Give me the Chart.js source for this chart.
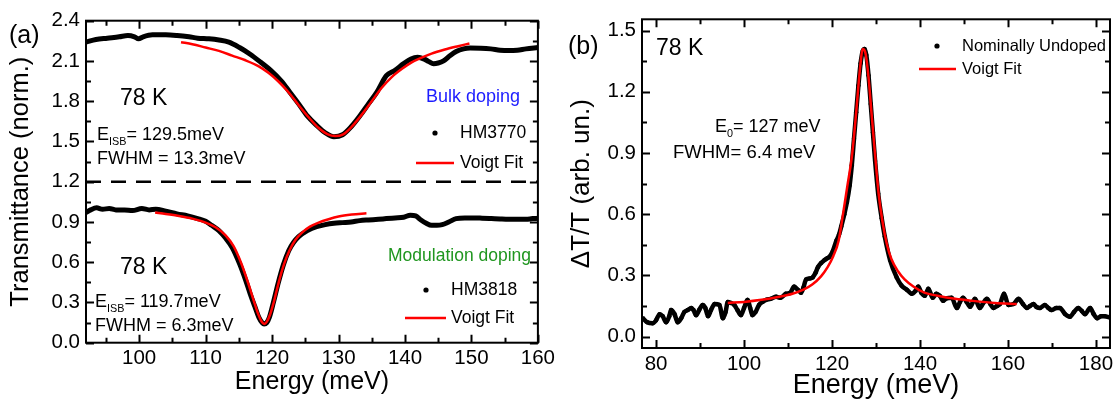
<!DOCTYPE html>
<html>
<head>
<meta charset="utf-8">
<script src="https://cdn.jsdelivr.net/npm/chart.js@4.4.0/dist/chart.umd.min.js"></script>
<style>
  body { margin: 0; background: #fff; }
  #wrap { position: relative; width: 1120px; height: 401px; }
  canvas { position: absolute; top: 0; }
</style>
</head>
<body>
<div id="wrap">
  <canvas id="panelA" width="560" height="401" style="left:0"></canvas>
  <canvas id="panelB" width="560" height="401" style="left:560px"></canvas>
</div>
<script>
// ---- panel (a): transmittance, bulk doping (HM3770)
const bulkE = [92, 93.5, 95.2, 97, 98.3, 99.3, 99.9, 100.6, 102, 104, 105.7, 107.5, 108.8, 110.5, 112, 113.5, 115.1, 116.7, 118.3, 119.8, 121.4, 122.7, 124, 125.3, 126.7, 128, 129.3, 130.6, 131.9, 133.2, 134.5, 135.8, 137.2, 138.5, 139.8, 140.9, 141.9, 142.9, 143.6, 144.3, 145, 145.8, 146.8, 147.7, 148.8, 149.8, 151.4, 152.9, 154.3, 155.6, 156.9, 158.2, 160];
const bulkT = [2.24, 2.26, 2.27, 2.28, 2.29, 2.28, 2.265, 2.28, 2.295, 2.295, 2.29, 2.28, 2.27, 2.265, 2.256, 2.24, 2.2, 2.15, 2.09, 2.03, 1.95, 1.865, 1.78, 1.69, 1.62, 1.565, 1.535, 1.55, 1.61, 1.69, 1.78, 1.87, 1.99, 2.03, 2.08, 2.115, 2.127, 2.114, 2.095, 2.08, 2.085, 2.1, 2.14, 2.17, 2.19, 2.196, 2.195, 2.19, 2.18, 2.177, 2.18, 2.19, 2.2];
const bulkFitE = [106.3, 108, 110, 112, 114, 116, 118, 119.5, 121, 122.5, 124, 125.5, 127, 128.3, 129.5, 130.7, 132, 133.5, 135, 136.5, 138, 139.5, 141, 142.5, 144, 146, 148, 149.7];
const bulkFitT = [2.24, 2.225, 2.2, 2.175, 2.14, 2.105, 2.06, 2.01, 1.945, 1.865, 1.77, 1.68, 1.6, 1.555, 1.54, 1.553, 1.61, 1.7, 1.8, 1.9, 1.98, 2.04, 2.09, 2.125, 2.155, 2.185, 2.21, 2.23];

// ---- panel (a): modulation doping (HM3818)
const modE = [92, 92.7, 93.6, 94.5, 95.5, 96.5, 97.8, 99, 100.4, 101.5, 102.5, 104, 105.7, 107.3, 108.8, 110, 110.9, 112, 113, 114, 115.1, 116, 116.7, 117.4, 118, 118.5, 118.8, 119.2, 119.6, 120.2, 120.9, 121.7, 122.5, 123.2, 124, 125.3, 126.7, 128, 129.3, 130.6, 131.9, 133.2, 134.5, 136, 137.2, 138.5, 139.8, 140.8, 141.6, 142.4, 143.2, 144, 144.8, 145.6, 146.6, 147.7, 149, 150.3, 151.6, 153, 154.3, 155.6, 156.9, 158.2, 159.2, 160];
const modT = [0.97, 0.99, 1.005, 0.995, 1.0, 0.99, 0.99, 0.985, 1.0, 0.99, 0.995, 0.98, 0.96, 0.945, 0.925, 0.905, 0.875, 0.835, 0.78, 0.71, 0.59, 0.47, 0.365, 0.27, 0.19, 0.15, 0.14, 0.15, 0.19, 0.3, 0.44, 0.58, 0.685, 0.745, 0.79, 0.835, 0.865, 0.88, 0.89, 0.895, 0.9, 0.91, 0.915, 0.92, 0.925, 0.93, 0.935, 0.95, 0.945, 0.915, 0.89, 0.875, 0.875, 0.88, 0.9, 0.925, 0.93, 0.93, 0.928, 0.925, 0.922, 0.92, 0.92, 0.92, 0.925, 0.927];
const modFitE = [102.4, 104, 106, 108, 110, 111.5, 113, 114.2, 115.3, 116.3, 117.2, 117.9, 118.4, 118.8, 119.2, 119.7, 120.3, 121, 121.8, 122.6, 123.5, 124.5, 125.7, 127, 128.5, 130, 132, 134.2];
const modFitT = [0.97, 0.96, 0.945, 0.925, 0.895, 0.86, 0.8, 0.72, 0.6, 0.46, 0.32, 0.215, 0.16, 0.14, 0.155, 0.21, 0.31, 0.45, 0.585, 0.685, 0.765, 0.82, 0.865, 0.895, 0.92, 0.94, 0.955, 0.965];

// dashed separator
const sepE = [92, 160];
const sepT = [1.2, 1.2];

// ---- panel (b): dT/T, nominally undoped
const undE = [77, 78, 79.2, 80, 80.8, 81.5, 82.3, 83, 83.4, 84.2, 84.9, 85.7, 86.4, 87.2, 88, 88.5, 89.1, 89.8, 90.6, 91.2, 91.8, 92.5, 93.3, 94.4, 95.2, 95.8, 96.3, 97, 97.8, 98.5, 99.3, 100, 100.8, 101.4, 101.9, 102.6, 103.4, 104.2, 105, 106, 107.3, 108.3, 109.5, 110.5, 111.4, 112.2, 112.95, 113.5, 114.1, 115, 115.6, 116.2, 116.8, 117.5, 118.3, 119, 119.4, 120.2, 121, 121.6, 122.1, 122.8, 123.4, 124, 124.5, 125, 125.5, 126, 126.5, 127, 127.4, 127.8, 128.3, 128.8, 129.3, 129.8, 130.5, 131.3, 132, 133.2, 134.7, 135.8, 137, 138.1, 139, 139.6, 140.3, 141.1, 141.9, 142.9, 143.7, 144.5, 145.3, 146, 147.2, 148.4, 149.1, 149.8, 150.6, 151.4, 152.5, 153.6, 154.4, 155.2, 156, 156.7, 157.5, 158.2, 159.1, 160.1, 161.3, 162.4, 163.4, 164.3, 165, 165.8, 166.5, 167.3, 168.4, 169.2, 169.9, 171, 171.8, 173, 174.1, 175, 176, 176.8, 177.5, 178.7, 179.5, 180.3, 181.2, 182, 183];
const undT = [0.09, 0.07, 0.065, 0.08, 0.11, 0.1, 0.07, 0.1, 0.13, 0.11, 0.07, 0.09, 0.12, 0.13, 0.14, 0.13, 0.105, 0.13, 0.155, 0.14, 0.1, 0.13, 0.16, 0.155, 0.09, 0.12, 0.17, 0.165, 0.155, 0.13, 0.105, 0.14, 0.18, 0.14, 0.105, 0.12, 0.155, 0.17, 0.18, 0.185, 0.195, 0.19, 0.21, 0.215, 0.245, 0.23, 0.215, 0.24, 0.28, 0.285, 0.29, 0.31, 0.34, 0.36, 0.375, 0.385, 0.39, 0.42, 0.47, 0.5, 0.54, 0.6, 0.66, 0.74, 0.84, 0.97, 1.1, 1.23, 1.34, 1.4, 1.41, 1.38, 1.28, 1.14, 1.0, 0.86, 0.7, 0.58, 0.49, 0.375, 0.29, 0.25, 0.23, 0.21, 0.225, 0.245, 0.215, 0.2, 0.235, 0.19, 0.21, 0.2, 0.175, 0.187, 0.19, 0.14, 0.17, 0.19, 0.17, 0.146, 0.185, 0.14, 0.165, 0.185, 0.16, 0.14, 0.15, 0.16, 0.21, 0.155, 0.16, 0.185, 0.16, 0.14, 0.15, 0.16, 0.145, 0.14, 0.155, 0.14, 0.13, 0.14, 0.14, 0.11, 0.097, 0.12, 0.14, 0.125, 0.11, 0.14, 0.11, 0.09, 0.1, 0.1, 0.095];
const undFitE = [96.3, 100, 104, 108, 111, 113.5, 115.5, 117.5, 119, 120.3, 121.5, 122.5, 123.5, 124.5, 125.5, 126.3, 127, 127.6, 128.3, 129, 129.8, 130.6, 131.5, 132.5, 133.5, 135, 136.5, 138.5, 141, 144, 148, 152, 157, 162];
const undFitT = [0.165, 0.17, 0.18, 0.195, 0.21, 0.23, 0.255, 0.295, 0.34, 0.395, 0.47, 0.6, 0.74, 0.88, 1.1, 1.3, 1.41, 1.39, 1.27, 1.09, 0.89, 0.7, 0.56, 0.45, 0.38, 0.32, 0.28, 0.245, 0.215, 0.2, 0.185, 0.175, 0.165, 0.16];

// ticks
const xTicksA = [100, 110, 120, 130, 140, 150, 160];
const xMinorA = [95, 105, 115, 125, 135, 145, 155];
const yTicksA = [0, 0.3, 0.6, 0.9, 1.2, 1.5, 1.8, 2.1, 2.4];
const yMinorA = [0.15, 0.45, 0.75, 1.05, 1.35, 1.65, 1.95, 2.25];
const xTicksB = [80, 100, 120, 140, 160, 180];
const xMinorB = [90, 110, 130, 150, 170];
const yTicksB = [0, 0.3, 0.6, 0.9, 1.2, 1.5];
const yMinorB = [0.15, 0.45, 0.75, 1.05, 1.35];

const FONT = '"Liberation Sans", Arial, sans-serif';
const RED = '#ff0000';
const pts = (xs, ys) => xs.map((x, i) => ({ x: x, y: ys[i] }));

// frame all round + inward ticks on the four sides
const frameTicks = {
  id: 'frameTicks',
  afterDatasetsDraw(chart, args, o) {
    const { ctx, chartArea: a, scales: { x, y } } = chart;
    ctx.save();
    ctx.strokeStyle = '#000';
    ctx.lineWidth = 2;
    ctx.beginPath();
    const xt = (v, len) => {
      const p = Math.round(x.getPixelForValue(v)) + 0.5;
      ctx.moveTo(p, a.bottom); ctx.lineTo(p, a.bottom - len);
      ctx.moveTo(p, a.top); ctx.lineTo(p, a.top + len);
    };
    const yt = (v, len) => {
      const p = Math.round(y.getPixelForValue(v)) + 0.5;
      ctx.moveTo(a.left, p); ctx.lineTo(a.left + len, p);
      ctx.moveTo(a.right, p); ctx.lineTo(a.right - len, p);
    };
    o.xMajor.forEach(v => xt(v, 8));
    o.xMinor.forEach(v => xt(v, 5));
    o.yMajor.forEach(v => yt(v, 8));
    o.yMinor.forEach(v => yt(v, 5));
    ctx.stroke();
    ctx.strokeRect(a.left, a.top, a.right - a.left, a.bottom - a.top);
    ctx.restore();
  }
};

// free text, legend samples
const notes = {
  id: 'notes',
  afterDraw(chart, args, o) {
    const ctx = chart.ctx;
    ctx.save();
    ctx.textBaseline = 'middle';
    ctx.textAlign = 'left';
    o.items.forEach(n => {
      if (n.dot) {
        ctx.fillStyle = '#000';
        ctx.beginPath(); ctx.arc(n.dot[0], n.dot[1], 2.6, 0, Math.PI * 2); ctx.fill();
        return;
      }
      if (n.line) {
        ctx.strokeStyle = RED; ctx.lineWidth = 2.5;
        ctx.beginPath(); ctx.moveTo(n.line[0], n.line[2]); ctx.lineTo(n.line[1], n.line[2]); ctx.stroke();
        return;
      }
      ctx.fillStyle = n.color || '#000';
      ctx.font = n.size + 'px ' + FONT;
      let x = n.x;
      ctx.fillText(n.text, x, n.y);
      if (n.sub) {
        x += ctx.measureText(n.text).width;
        ctx.font = (n.size * 0.6) + 'px ' + FONT;
        ctx.fillText(n.sub, x, n.y + n.size * 0.38);
        x += ctx.measureText(n.sub).width;
        ctx.font = n.size + 'px ' + FONT;
        ctx.fillText(n.rest, x, n.y);
      }
    });
    ctx.restore();
  }
};

function lineSet(xs, ys, color, width, order) {
  return { data: pts(xs, ys), showLine: true, borderColor: color, borderWidth: width, pointRadius: 0, cubicInterpolationMode: 'monotone', order: order };
}

function axes(cfg) {
  return {
    x: {
      type: 'linear', min: cfg.xMin, max: cfg.xMax,
      afterFit: s => { s.height = cfg.xH; },
      afterBuildTicks: s => { s.ticks = cfg.xTicks.map(v => ({ value: v })); },
      grid: { display: false, drawTicks: false, tickLength: 0 }, border: { display: false },
      ticks: { color: '#000', padding: cfg.xPad, font: { family: FONT, size: cfg.tick, lineHeight: 1 }, callback: v => String(v) },
      title: { display: true, text: 'Energy (meV)', color: '#000', font: { family: FONT, size: cfg.xTitle, lineHeight: 1 }, padding: { top: 0, bottom: cfg.xTitlePad } }
    },
    y: {
      type: 'linear', min: cfg.yMin, max: cfg.yMax,
      afterFit: s => { s.width = cfg.yW; },
      afterBuildTicks: s => { s.ticks = cfg.yTicks.map(v => ({ value: v })); },
      grid: { display: false, drawTicks: false, tickLength: 0 }, border: { display: false },
      ticks: { color: '#000', padding: cfg.yPad, font: { family: FONT, size: cfg.tick, lineHeight: 1 }, callback: v => v.toFixed(1) },
      title: { display: true, text: cfg.yText, color: '#000', font: { family: FONT, size: cfg.yTitle, lineHeight: 1 }, padding: { top: cfg.yTitlePad, bottom: 0 } }
    }
  };
}

new Chart('panelA', {
  type: 'scatter',
  data: {
    datasets: [
      lineSet(bulkFitE, bulkFitT, RED, 2.5, 0),
      lineSet(modFitE, modFitT, RED, 2.5, 0),
      lineSet(bulkE, bulkT, '#000', 5, 1),
      lineSet(modE, modT, '#000', 5, 1),
      Object.assign(lineSet(sepE, sepT, '#000', 2.5, 2), { borderDash: [15, 10] })
    ]
  },
  options: {
    responsive: false, animation: false, devicePixelRatio: 1,
    layout: { padding: { left: 0, right: 12, top: 20.7, bottom: 0 } },
    plugins: {
      legend: { display: false }, tooltip: { enabled: false },
      frameTicks: { xMajor: xTicksA, xMinor: xMinorA, yMajor: yTicksA, yMinor: yMinorA },
      notes: { items: [
        { text: '(a)', x: 9, y: 36, size: 25 },
        { text: '78 K', x: 120, y: 99, size: 23 },
        { text: 'E', sub: 'ISB', rest: '= 129.5meV', x: 97, y: 135, size: 18 },
        { text: 'FWHM = 13.3meV', x: 97, y: 159, size: 18 },
        { text: 'Bulk doping', x: 426, y: 97, size: 18, color: '#1c1cff' },
        { dot: [435, 133] }, { text: 'HM3770', x: 460, y: 133, size: 17.5 },
        { line: [416, 454, 163] }, { text: 'Voigt Fit', x: 460, y: 163, size: 17.5 },
        { text: '78 K', x: 120, y: 268, size: 23 },
        { text: 'E', sub: 'ISB', rest: '= 119.7meV', x: 95, y: 302, size: 18 },
        { text: 'FWHM = 6.3meV', x: 95, y: 326, size: 18 },
        { text: 'Modulation doping', x: 388, y: 256, size: 17.5, color: '#1f961f' },
        { dot: [426, 290] }, { text: 'HM3818', x: 451, y: 290, size: 17.5 },
        { line: [405, 446, 318] }, { text: 'Voigt Fit', x: 451, y: 318, size: 17.5 }
      ] }
    },
    scales: axes({
      xMin: 92, xMax: 160, xH: 58.3, xTicks: xTicksA, xPad: 5, tick: 20.5, xTitle: 25, xTitlePad: 6,
      yMin: 0, yMax: 2.4, yW: 86, yTicks: yTicksA, yPad: 6, yTitle: 25.5, yTitlePad: 8, yText: 'Transmittance (norm.)'
    })
  },
  plugins: [frameTicks, notes]
});

new Chart('panelB', {
  type: 'scatter',
  data: {
    datasets: [
      lineSet(undFitE, undFitT, RED, 2.5, 0),
      Object.assign(lineSet(undE, undT, '#000', 4.5, 1), { pointRadius: 2.2, pointBackgroundColor: '#000', pointBorderWidth: 0 })
    ]
  },
  options: {
    responsive: false, animation: false, devicePixelRatio: 1,
    layout: { padding: { left: 0, right: 10, top: 19.3, bottom: 0 } },
    plugins: {
      legend: { display: false }, tooltip: { enabled: false },
      frameTicks: { xMajor: xTicksB, xMinor: xMinorB, yMajor: yTicksB, yMinor: yMinorB },
      notes: { items: [
        { text: '(b)', x: 8, y: 47, size: 25 },
        { text: '78 K', x: 96, y: 49, size: 23 },
        { text: 'E', sub: '0', rest: '= 127 meV', x: 155, y: 127, size: 18 },
        { text: 'FWHM= 6.4 meV', x: 113, y: 153, size: 18.5 },
        { dot: [377, 46] }, { text: 'Nominally Undoped', x: 402, y: 46, size: 16.5 },
        { line: [359, 396, 69] }, { text: 'Voigt Fit', x: 402, y: 69, size: 16.5 }
      ] }
    },
    scales: axes({
      xMin: 76.8, xMax: 183.2, xH: 53, xTicks: xTicksB, xPad: 6, tick: 20.5, xTitle: 27, xTitlePad: 2,
      yMin: -0.056, yMax: 1.555, yW: 82, yTicks: yTicksB, yPad: 6, yTitle: 26, yTitlePad: 9, yText: 'ΔT/T (arb. un.)'
    })
  },
  plugins: [frameTicks, notes]
});
</script>
</body>
</html>
